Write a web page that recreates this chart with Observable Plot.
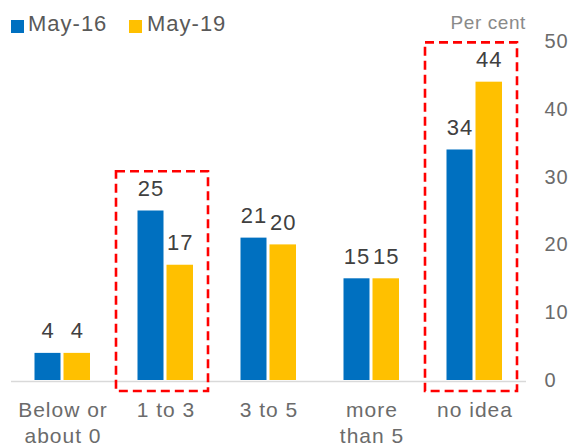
<!DOCTYPE html>
<html>
<head>
<meta charset="utf-8">
<script src="https://cdn.jsdelivr.net/npm/d3@7"></script>
<script src="https://cdn.jsdelivr.net/npm/@observablehq/plot@0.6"></script>
<style>
  html, body { margin: 0; padding: 0; background: #fff; }
  body { width: 570px; height: 446px; overflow: hidden; font-family: "Liberation Sans", Arial, sans-serif; }
  #header { position: relative; height: 31px; }
  .sw { position: absolute; top: 20px; width: 13px; height: 13px; }
  .lt { position: absolute; top: 13px; font-size: 22px; line-height: 22px; color: #595959; letter-spacing: 1px; white-space: nowrap; }
  #unit { position: absolute; right: 44px; top: 13px; font-size: 19px; line-height: 19px; color: #8a8a8a; letter-spacing: 0.6px; white-space: nowrap; }
  #chart svg text { letter-spacing: 1px; }
</style>
</head>
<body>
<div id="header"></div>
<div id="chart"></div>
<script>
const categories = ["Below or\nabout 0", "1 to 3", "3 to 5", "more\nthan 5", "no idea"];
const seriesNames = ["May-16", "May-19"];
const may16 = [4, 25, 21, 15, 34];
const may19 = [4, 17, 20, 15, 44];
const highlighted = ["1 to 3", "no idea"];
const yTicks = [0, 10, 20, 30, 40, 50];
const colors = ["#0070C0", "#FFC000"];

const rows16 = categories.map((c, i) => ({category: c, value: may16[i]}));
const rows19 = categories.map((c, i) => ({category: c, value: may19[i]}));
const boxes = highlighted.map(c => {
  const i = categories.indexOf(c);
  return {category: c, top: Math.max(may16[i], may19[i])};
});

// legend + unit label
const header = document.getElementById("header");
const swX = [11, 129], txX = [28, 147];
seriesNames.forEach((s, i) => {
  const sw = document.createElement("div");
  sw.className = "sw"; sw.style.left = swX[i] + "px"; sw.style.background = colors[i];
  header.appendChild(sw);
  const t = document.createElement("div");
  t.className = "lt"; t.style.left = txX[i] + "px"; t.textContent = s;
  header.appendChild(t);
});
const unit = document.createElement("div");
unit.id = "unit"; unit.textContent = "Per cent";
header.appendChild(unit);

const chart = Plot.plot({
  width: 570,
  height: 415,
  marginLeft: 11,
  marginRight: 44,
  marginTop: 10,
  marginBottom: 66,
  style: {fontFamily: "Liberation Sans, Arial, sans-serif", fontSize: "20px", color: "#6b6b6b", background: "#fff", overflow: "visible"},
  x: {type: "band", domain: categories, padding: 0, axis: null},
  y: {domain: [0, 50], ticks: yTicks, axis: "right", tickSize: 0, tickPadding: 18, label: null},
  marks: [
    Plot.barY(rows16, {x: "category", y: "value", fill: colors[0], insetLeft: 23.5, insetRight: 53.5}),
    Plot.barY(rows19, {x: "category", y: "value", fill: colors[1], insetLeft: 52.5, insetRight: 24}),
    Plot.ruleY([0], {stroke: "#d9d9d9", strokeWidth: 1.5, dy: 1}),
    Plot.barY(boxes, {x: "category", y1: 0, y2: d => d.top + 5.8, fill: "none", stroke: "#FF0000", strokeWidth: 2.6, strokeDasharray: "9,5", insetLeft: 2, insetRight: 9, insetBottom: -11}),
    Plot.text(rows16, {x: "category", y: "value", text: d => String(d.value), dx: -15, dy: -15, lineAnchor: "bottom", fontSize: 22, fill: "#404040"}),
    Plot.text(rows19, {x: "category", y: "value", text: d => String(d.value), dx: 14.25, dy: -15, lineAnchor: "bottom", fontSize: 22, fill: "#404040"}),
    Plot.text(categories, {x: d => d, text: d => d, frameAnchor: "bottom", lineAnchor: "top", dy: 18, lineHeight: 1.24, fontSize: 21, fill: "#6b6b6b"})
  ]
});
document.getElementById("chart").appendChild(chart);
</script>
</body>
</html>
